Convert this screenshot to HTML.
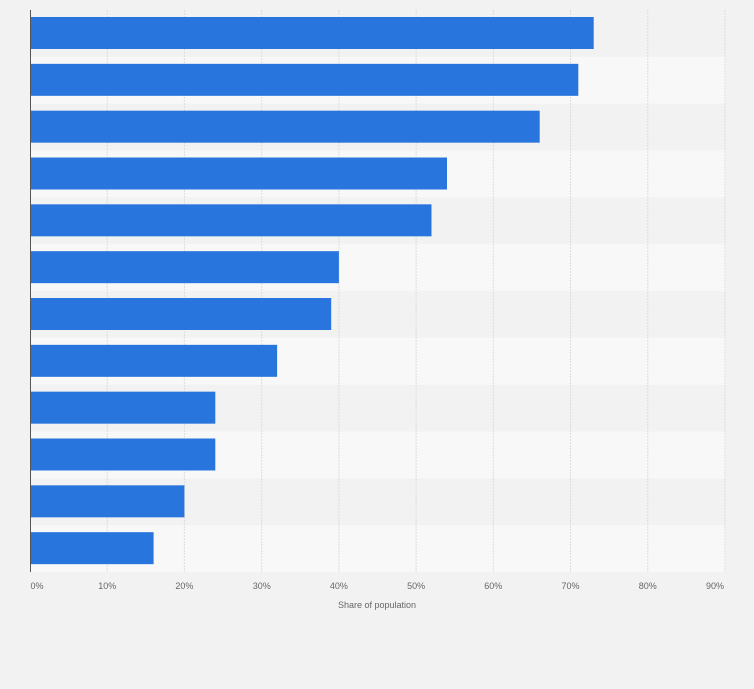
<!DOCTYPE html><html><head><style>
body{margin:0;width:754px;height:689px;background:#f2f2f2;font-family:"Liberation Sans",sans-serif;}
</style></head><body>
<svg width="754" height="689" xmlns="http://www.w3.org/2000/svg" style="display:block">
<rect width="754" height="689" fill="#f2f2f2"/>
<g fill="#f8f8f8">
<rect x="30" y="56.83" width="696" height="46.83"/>
<rect x="30" y="150.5" width="696" height="46.83"/>
<rect x="30" y="244.17" width="696" height="46.83"/>
<rect x="30" y="337.83" width="696" height="46.83"/>
<rect x="30" y="431.5" width="696" height="46.83"/>
<rect x="30" y="525.17" width="696" height="46.83"/>
</g>
<g stroke="#dcdcdc" stroke-dasharray="2,1">
<line x1="107.2" y1="10" x2="107.2" y2="572"/>
<line x1="184.4" y1="10" x2="184.4" y2="572"/>
<line x1="261.7" y1="10" x2="261.7" y2="572"/>
<line x1="338.9" y1="10" x2="338.9" y2="572"/>
<line x1="416.1" y1="10" x2="416.1" y2="572"/>
<line x1="493.3" y1="10" x2="493.3" y2="572"/>
<line x1="570.5" y1="10" x2="570.5" y2="572"/>
<line x1="647.8" y1="10" x2="647.8" y2="572"/>
<line x1="725" y1="10" x2="725" y2="572"/>
</g>
<g fill="#2876dd">
<rect x="30" y="17" width="563.7" height="32"/>
<rect x="30" y="63.83" width="548.3" height="32"/>
<rect x="30" y="110.67" width="509.7" height="32"/>
<rect x="30" y="157.5" width="417" height="32"/>
<rect x="30" y="204.33" width="401.5" height="32"/>
<rect x="30" y="251.17" width="308.9" height="32"/>
<rect x="30" y="298" width="301.2" height="32"/>
<rect x="30" y="344.83" width="247.1" height="32"/>
<rect x="30" y="391.67" width="185.3" height="32"/>
<rect x="30" y="438.5" width="185.3" height="32"/>
<rect x="30" y="485.33" width="154.4" height="32"/>
<rect x="30" y="532.17" width="123.6" height="32"/>
</g>
<line x1="30.5" y1="10" x2="30.5" y2="572" stroke="#555"/>
<g font-size="9" fill="#666" text-anchor="middle" font-family="Liberation Sans, sans-serif">
<text x="37" y="589">0%</text>
<text x="107.2" y="589">10%</text>
<text x="184.4" y="589">20%</text>
<text x="261.7" y="589">30%</text>
<text x="338.9" y="589">40%</text>
<text x="416.1" y="589">50%</text>
<text x="493.3" y="589">60%</text>
<text x="570.5" y="589">70%</text>
<text x="647.8" y="589">80%</text>
<text x="715" y="589">90%</text>
<text x="377" y="608">Share of population</text>
</g>
</svg>
</body></html>
